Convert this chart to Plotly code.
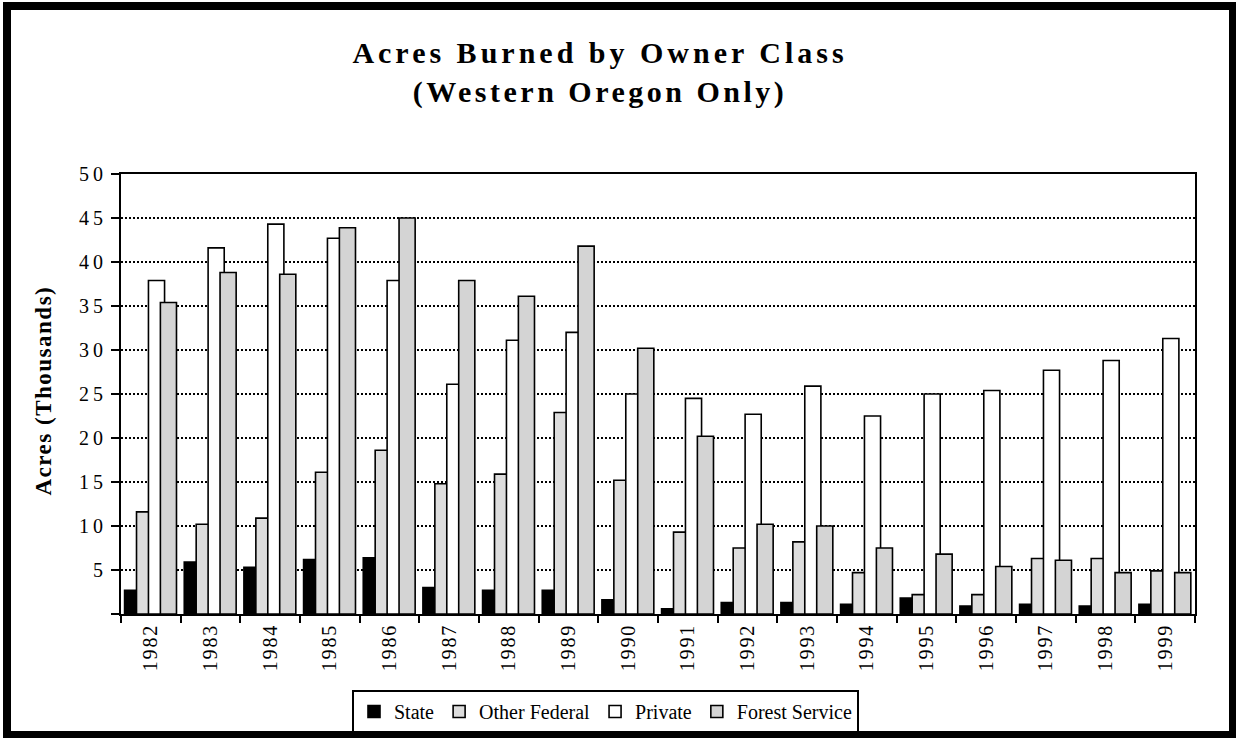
import plotly.graph_objects as go

years = ['1982', '1983', '1984', '1985', '1986', '1987', '1988', '1989', '1990',
         '1991', '1992', '1993', '1994', '1995', '1996', '1997', '1998', '1999']
state = [2.7, 5.9, 5.3, 6.2, 6.4, 3.0, 2.7, 2.7, 1.6, 0.6, 1.3, 1.3, 1.1, 1.8, 0.9, 1.1, 0.9, 1.1]
other_federal = [11.6, 10.2, 10.9, 16.1, 18.6, 14.8, 15.9, 22.9, 15.2, 9.3, 7.5, 8.2, 4.7, 2.2, 2.2, 6.3, 6.3, 4.9]
private = [37.9, 41.6, 44.3, 42.7, 37.9, 26.1, 31.1, 32.0, 25.0, 24.5, 22.7, 25.9, 22.5, 25.0, 25.4, 27.7, 28.8, 31.3]
forest_service = [35.4, 38.8, 38.6, 43.9, 45.0, 37.9, 36.1, 41.8, 30.2, 20.2, 10.2, 10.0, 7.5, 6.8, 5.4, 6.1, 4.7, 4.7]
series_names = ['State', 'Other Federal', 'Private', 'Forest Service']
y_ticks = [0, 5, 10, 15, 20, 25, 30, 35, 40, 45, 50]
y_tick_labels = ['', '5', '10', '15', '20', '25', '30', '35', '40', '45', '50']

colors = ['#000000', '#DDDDDD', '#FFFFFF', '#D4D4D4']
FONT = 'Liberation Serif'
W, H = 1236, 738
ML, MR, MT, MB = 121, 41, 174, 124
PW, PH = W - ML - MR, H - MT - MB

def ls(text, px):
    if not text:
        return text
    return f'<span style="letter-spacing:{px}px">{text}</span>'

bar_width = 0.27
offsets = [-0.44, -0.24, -0.04, 0.16]

fig = go.Figure()
for name, vals, col, off in zip(series_names, [state, other_federal, private, forest_service], colors, offsets):
    fig.add_trace(go.Bar(
        x=years, y=vals, name=name,
        width=bar_width, offset=off,
        marker=dict(color=col, line=dict(color='black', width=1.6)),
    ))

n = len(years)
fig.update_layout(
    width=W, height=H,
    margin=dict(l=ML, r=MR, t=MT, b=MB, autoexpand=False),
    paper_bgcolor='white', plot_bgcolor='white',
    barmode='overlay',
    font=dict(family=FONT, color='black', size=20),
    title=dict(
        text=ls('Acres Burned by Owner Class', 4) + '<br>' + ls('(Western Oregon Only)', 3.5),
        x=600 / W, xref='container', xanchor='center',
        y=1 - 63 / H, yref='container', yanchor='top',
        font=dict(family=FONT, size=30, weight=700, color='black'),
    ),
    xaxis=dict(
        type='category', range=[-0.5, n - 0.5], automargin=False,
        tickson='boundaries', ticks='outside', ticklen=7, tickwidth=2, tickcolor='black',
        tickangle=-90,
        tickfont=dict(family=FONT, size=20),
        tickmode='array', tickvals=years, ticktext=[ls(y, 1.8) for y in years],
        showline=True, linecolor='black', linewidth=2, mirror=True,
        showgrid=False, zeroline=False,
    ),
    xaxis2=dict(
        overlaying='x', anchor='y', range=[-0.5, n - 0.5], automargin=False,
        tickmode='array', tickvals=[i - 0.5 for i in range(n + 1)],
        ticks='inside', ticklen=8, tickwidth=2, tickcolor='black',
        showticklabels=False, showline=False, showgrid=False, zeroline=False,
        layer='below traces',
    ),
    yaxis=dict(
        range=[0, 50], automargin=False,
        tickmode='array', tickvals=y_ticks, ticktext=[ls(t, 4) for t in y_tick_labels],
        ticks='outside', ticklen=8, tickwidth=2, tickcolor='black',
        tickfont=dict(family=FONT, size=20),
        showline=True, linecolor='black', linewidth=2, mirror=True,
        showgrid=True, gridcolor='black', gridwidth=1.5, griddash='2px,2px',
        zeroline=False,
    ),
    legend=dict(
        orientation='h', x=605.5 / W, xref='container', xanchor='center',
        y=1 - 690 / H, yref='container', yanchor='top',
        bgcolor='white', bordercolor='black', borderwidth=2,
        font=dict(family=FONT, size=20), itemclick=False,
    ),
    showlegend=True,
)

# y-axis title
fig.add_annotation(
    text=ls('Acres (Thousands)', 1.5), textangle=-90, showarrow=False,
    xref='paper', yref='paper', x=(43 - ML) / PW, y=(MT + PH - 390.5) / PH,
    xanchor='center', yanchor='middle',
    font=dict(family=FONT, size=23, weight=700, color='black'),
)

# outer frame around the whole picture
fig.add_shape(type='rect', xref='paper', yref='paper',
              x0=(7 - ML) / PW, x1=(1233 - ML) / PW,
              y0=(MT + PH - 735) / PH, y1=(MT + PH - 6) / PH,
              line=dict(color='black', width=8), fillcolor='rgba(0,0,0,0)')

fig.write_html('out.html', config={'displayModeBar': False},
               post_script="document.body.style.margin='0px';")
